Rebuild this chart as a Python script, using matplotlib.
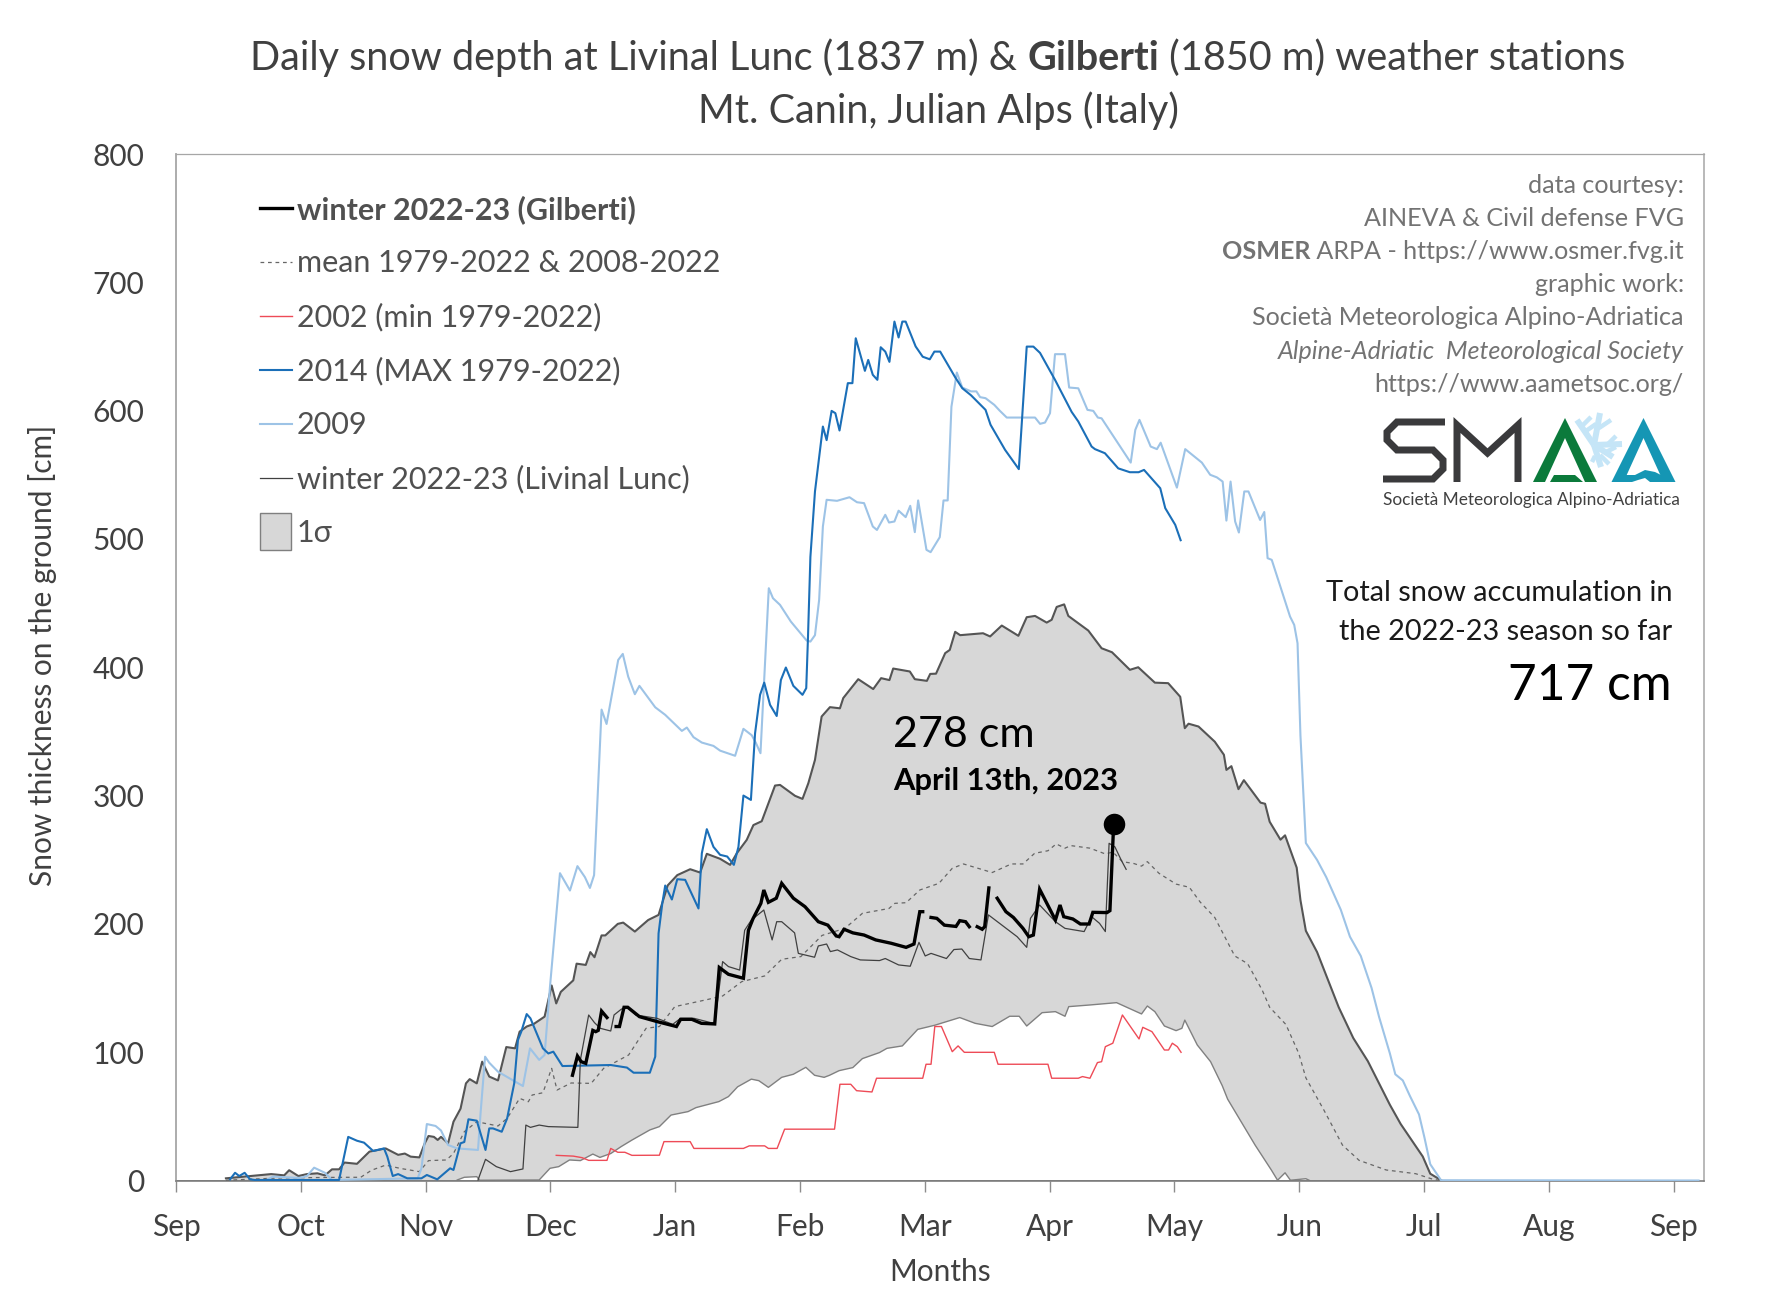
import numpy as np
import matplotlib
matplotlib.use("Agg")
import matplotlib.pyplot as plt
from matplotlib.lines import Line2D
from matplotlib.patches import Rectangle, Polygon
from matplotlib.legend_handler import HandlerPatch
from matplotlib.transforms import Affine2D

plt.rcParams['font.family'] = ['Lato', 'DejaVu Sans']
W, H = 1772, 1313

month_labels = ['Sep','Oct','Nov','Dec','Jan','Feb','Mar','Apr','May','Jun','Jul','Aug','Sep']
y_ticks = [0,100,200,300,400,500,600,700,800]

upper_d = [12,22.9,26,27.2,29.4,31.5,34,35.8,37.5,39.2,40.5,43.5,46.5,50.4,53.4,55,56.4,58.5,59.8,60.7,62,62.9,63.7,65.4,66.7,68.4,69.7,70.6,72.3,73.6,75.3,77.4,79.4,81.5,82.6,84.3,86,88.6,90.3,91.4,92.5,95.5,96.3,98.5,99.6,100.6,102.3,103.2,106.2,107.5,110.3,113.5,116,118.2,120.5,123.6,126,127.6,130.8,133.2,134.8,137.2,138.8,140.8,144,145.2,148.8,150.6,152,153.6,155.2,157.2,159.6,160.4,164,167.6,169.5,171.5,172.4,176.4,177.6,180.5,181.3,182.7,184.9,186,187.3,188.5,194,195.7,198.5,202.5,204.5,206.5,209.3,210.5,211.7,213.5,214.5,219.3,222.5,225,229.3,231.3,235.3,238.5,241.4,242.5,243.4,245.8,249.7,251.9,252.5,253.7,255.4,256.7,260.7,261.8,262.9,265.5,266.6,269.4,270.3,271.6,274.3,279.5,283,286.5,291.8,294.4,299.7,301.5,304.1]
upper_v = [1.7,5,4,8,3.5,5,5.6,4,8.7,8.7,14,13,22.5,25,20,21,18.6,18,29,34.7,34,31.6,34,29,45.8,56,75.7,79,75.7,92.6,81,78,104,103,116,120,122,127.7,152,138,147,156,169,168,178,174,191,191,200,201,194,203,207,230,238,242.6,240,254.6,250.7,246,255,265.5,277,280,307.8,308.3,299.8,297.4,309.6,327.8,361.6,368.9,368,376,390.7,383,391.5,390,399,396.7,390.7,389.4,394.8,395,411,413.5,427.6,425,426.5,424,432.5,424.5,439,440,434.8,437,447,449,440,428.6,414.8,411.7,398,400,388,387.6,377,352.5,356,353.8,342,331.8,320,322.9,305,312,294.5,293.6,279.6,265.6,269,243.8,218.5,194.6,178,135,111,93,59,44,18.7,5.3,0.2]

lower_d = [67.6,69.3,72.3,73,87.3,89.9,92,94.6,97.2,100.2,101.9,104.5,107,109.6,113.9,116.2,119,123.1,125,130.5,132.8,135,138.3,140.1,142.4,145.6,148.4,151.4,153.5,155.8,157.1,159.4,162.7,165,169.1,170.9,174.6,178.3,182.4,185.2,188.4,192.1,196.2,200.4,202.7,204.5,208.2,211.4,213.7,214.6,219.7,226.1,232.1,233.5,235.3,237.6,240.4,241.8,242.5,245.5,248.7,251.5,252.8,259.4,263.3,264.8,266.6,267.9,271.6,272.5]
lower_v = [0.4,2.5,3,0.2,0.4,9.5,10.8,16,15.5,20.6,18,21,26.4,31.5,39.4,42,51,53.7,56.8,61.5,65.4,73,79,77.8,72.6,80.4,82.8,88.2,82,80.4,82,85.6,88,95,99.7,103,104.9,117.8,121,123.8,127,122.5,120,128,128,120.4,130.8,131.6,128,135.5,136.8,138.6,129.8,136,131.6,120.4,116.8,118.6,125,105.6,92.6,73.9,63.4,27.6,8.2,0.2,6,0.2,1.4,0]

mean_d = [12,25,40,44.4,47,50.4,53.8,58.5,60.7,65,66.7,69.3,72.3,77.4,79.6,82.6,84.7,85.6,88.2,90.3,91.6,95,99.8,102.8,108.8,113,116.2,119.9,127.7,131.4,136,141.5,145.6,150.2,155.3,160.8,165,171.4,172.8,175.5,178.8,183.4,186.6,189.3,196.2,200.8,203.6,206.4,209.6,211.6,213.7,215.1,219.7,223.4,225.2,227.5,230.3,232.1,233.5,236.3,240.4,243.6,246.2,249.7,254.5,257.6,261.1,262.9,266.8,269.9,271.6,276,280.4,284.4,290.9,298,302.3,304]
mean_v = [0.2,2,2.5,2.5,8,12,9.5,6.9,15.5,16,21,38,45.8,42.5,48.4,64,61.4,66.6,68.4,87.4,70.5,76,75.7,87.4,97.8,118.6,120,135.5,141,143.8,155,159.4,172.4,174.5,191,196.5,208.2,212,216,216.5,226.4,231.6,243.3,246.7,240,246.7,246.7,255,257,262.3,259,261,259,254.5,256,248.5,247,245,248.5,239.4,231,228.5,217,205,175,169,148.4,135,121.6,99,80,54.5,27.6,15.7,8.2,5.3,0.8,0]

y2009_d = [21.7,23.3,29.8,31.5,33.2,35.8,37.5,58.1,59,60.3,62.4,63.7,65.4,67.6,72.6,73.2,74.3,75.3,77.4,83.4,85.1,87.3,88.6,89.9,92.3,94.7,96.5,98.3,99.5,100.5,102.3,103.5,106.3,107.4,108.7,110.3,111.4,115.2,117.6,121.6,122.8,124.4,126.4,129.2,130.8,134.4,136.4,138.4,139.4,140.5,142.5,143.5,145.2,147.8,151.6,152.5,153.6,154.6,155.5,156.4,158.9,161.9,163.7,165.4,167.5,168.5,170.5,171.4,172.7,173.7,175.4,176.5,177.6,178.4,180.4,181.4,183.6,184.5,185.5,186.4,187.7,189,191.1,192.4,193.3,194.6,196.7,198,199.7,206.5,207.7,208.9,210.1,211.3,213.7,214.7,216.9,219.1,220.5,221.6,222.5,229.5,230.6,231.6,234.3,235.8,236.7,240.6,242.6,246.6,248.6,250.2,251.6,252.5,253.5,254.6,255.5,256.8,257.8,260.6,261.6,262.4,263.4,267.8,268.8,269.6,270.3,271.6,274.3,276.5,280,282.2,284.8,287.4,289.2,291.8,293.1,294.9,296.6,298.8,300.1,301.5,304.1,366]
y2009_v = [0.4,3,2,3.5,10,6,0.4,1.7,9.5,44,42.5,39,27.7,25,23.8,52,96.5,91.8,84.8,73.6,103,94,97.8,151,239.5,226,245,236.4,228,238,367,355.8,405.7,410.4,392.7,379,385.5,368.8,362.9,350.4,353,345.5,341.3,338.7,335,331,352,347,341,333,461.6,453.8,448.6,435.6,420.8,420,425,452.5,509.7,530.5,529.7,532.5,528.6,527.9,509.7,507,518.8,512.8,513.6,522,517,525.8,505.3,530,491.5,489.7,501.4,530,530,603,629.7,618,615,615,610.5,609.7,604.5,600,594.6,594.6,589.7,590.7,598,644,644,618,617.4,600.6,599.8,594.6,594,559.5,585,592.8,572,570,575,540,570,559.5,550,548,544.7,514.3,544.7,513.6,505,537,537,514.8,521,485,483.7,439.5,433,418.7,346.7,263,249.8,236.4,211,190,175,150,127.5,99,82.8,78,66,51.5,33.6,12.7,0.2,0]

y2014_d = [13,14.2,15.2,16.5,17.8,19,39.2,41.4,43.5,45.2,47.4,50,50.8,52.1,53.4,55.6,59,60.3,62.8,65.9,66.7,68.4,69.3,70.3,72.3,74.4,75.3,76.2,78.3,79.6,81.3,82.2,83,84.3,85.2,88.2,89.5,90.7,92.9,104.5,108.4,110,113.9,115.2,116,116.9,117.6,119.2,120.5,122.4,125.6,126.4,127.6,129.2,130.8,132.5,134.1,135.2,136.4,138.2,139.2,140.4,141.4,142.8,144.4,145.4,146.6,148.4,150.6,151.5,151.9,152.5,153.6,155.5,156.4,157.6,158.5,159.5,161.5,162.6,163.4,165.6,166.4,167.5,168.6,169.4,170.5,171.5,172.7,173.7,174.6,175.4,177.8,179.5,181.2,182.3,183.7,187.3,189,191.1,194.6,195.8,199.3,202.6,204.5,206.1,207.7,211.3,215.3,216.9,220.1,220.9,223.3,226.5,229.3,231.4,232.7,236.6,237.8,240.2,241.5]
y2014_v = [0.9,6,3.5,6,0.9,0.4,0.4,34,31,29.5,23,25,18.6,3.5,5,1.7,1.7,4.3,0.9,9.5,8.2,29,30,47.7,46.6,23.8,40.6,40.6,38,48.4,75.7,109.5,116,129.7,126.4,103,99,100.4,89.2,90,88,84,84,96.5,192.6,216,229.9,219,234.8,234.3,212,255,273.8,260,253.8,252.5,246,260,300,296.6,348.6,378.5,388,370.7,362,390,399.8,385.5,378.5,383.7,421.4,486,537,587.6,577,599.8,598,584.5,621.4,621.4,656.4,631,639.5,627.9,624,649.4,646,638,669.4,657,669.4,669.4,650,642,640,646,646,626,617.5,612,600.6,589,569.4,554.4,649.9,649.9,645,624,599,591.5,572,570,566.8,555,552,552,553.8,539.5,524,511,499]

y2002_d = [91.4,95.5,97.6,99.2,103.6,104.5,106.2,107.9,109.6,116.2,117.3,123.6,124.5,136.4,137.8,141.5,142.4,144.5,146.3,158.3,159.6,162.2,163.6,167.3,168.4,179.5,180.3,181.5,182.4,184,186.6,188,189.5,196.7,197.6,209.6,210.5,216.9,217.9,219.7,221.5,222.5,223.4,225.2,227.5,231.5,232.4,234.6,237.6,238.6,239.5,240.7,241.6]
y2002_v = [19.6,19,17.8,15.7,15.7,25,22,22,19.6,19.7,30.3,30.3,25,25,27,27,25,25,40,40,75,75,70,69,79.7,79.7,90.6,90.6,120,120,100.4,104.9,99.9,99.9,90.6,90.6,79.7,79.7,81,79.7,91.9,92.6,104.3,107,129,110.3,119.4,116,101.7,101.7,107,104.3,99.9]

gilberti_d = [95.3,96.5,97.4,98.5,100.2,100.9,101.5,102.3,103.6,104.5,105.8,106.6,107.7,108.6,111.4,115.7,120.3,121.3,124,126.3,129.5,130.6,132.8,136.4,137.6,138.7,140.6,141.3,142.4,144.3,145.6,148.4,151.2,154.4,156.7,158.7,159.4,160.6,162.7,165.4,168.2,171.9,175.5,177.4,178.8,179.5,180.5,181.5,182.9,184.7,187.5,188.4,189.8,190.7,191.6,192.6,193.8,194.4,195.4,196.4,197.4,199.5,201.3,203.6,205,206.1,207.6,211.4,212.5,213.4,215.6,217.4,219.5,220.4,223.8,224.5,225.4]
gilberti_v = [82,97,92.6,91.3,117,116,117,132,127,np.nan,120,120,135,135,127.7,123.8,120,125.6,125.6,122.5,122,166,160.7,157.6,195,204,216,226.4,216.8,220,231.6,220,213.4,201.7,199,190.6,190,195.8,193,191.3,187.5,184.9,181.7,184.3,209.5,209.5,np.nan,205,204.3,199,198,202.5,201.7,197.8,np.nan,197.8,195.8,197.8,228,np.nan,220,209.5,205,196.5,190,191.3,227,203,214.7,205.6,203.8,199.9,199.9,209,208.8,210.3,278]

livinal_d = [72.6,74.4,77,80.4,83.4,84.1,85.2,87.3,89.5,96.6,97.2,99.2,100.6,102,104.5,105.3,107,108.3,110.5,115.6,119.4,121.3,124.5,128.6,129.5,131.4,132.8,135.5,136.7,138.3,141.3,143.3,144.4,145.6,148.7,149.6,153.5,154.4,156.4,157.3,159,162.2,164.5,169.1,170.5,173.7,176.5,178.6,180.1,181.5,185.2,187,188.9,190.7,193.5,195.3,202.2,204.5,205.4,207.6,211.4,213.7,218.3,220.1,222,223.4,224.3,225.7,227.2,228.4]
livinal_v = [0.4,16.5,10.8,6.9,9,43.2,41.4,43.2,42,41.4,93.9,129,123,118.6,116.5,129,133.4,135.5,129,126.4,121.7,126.4,126.4,123,123,170.6,166.7,164,195,203,210.8,187.5,201.7,201.7,193,177,174,182.8,184.3,178.4,179.7,174.5,171.9,171.4,173,168,167,185.6,175,177,173,180,180.4,173,171.9,207,190,181.7,204.3,214.7,201.7,196.5,194,205.6,200.4,194,262.8,260,249.8,242.5]

peak_day, peak_value = [225.5], [278]

GREY = '#404040'
fig = plt.figure(figsize=(W/100, H/100), dpi=100, facecolor='white')
L, R, T, B = 176, 1704, 154, 1180.5
ax = fig.add_axes([L/W, 1-B/H, (R-L)/W, (B-T)/H])
ax.set_xlim(0, (R-L)/4.16)
ax.set_ylim(0, 800)

px = Affine2D().scale(1, -1).translate(0, H)

# band
band_x = np.concatenate([upper_d, [304.1], lower_d[::-1], [12]])
band_y = np.concatenate([upper_v, [0], lower_v[::-1], [0]])
ax.fill(band_x, band_y, color='#d7d7d7', lw=0, zorder=1)
ax.plot(upper_d, upper_v, color='#555555', lw=1.5, zorder=2)
ax.plot(lower_d, lower_v, color='#808080', lw=1.0, zorder=2)
ax.plot([0, 366], [0, 0], color='#595959', lw=1.2, zorder=2)

l_mean, = ax.plot(mean_d, mean_v, color='#666666', lw=0.9, ls=(0, (3, 3)), zorder=3, label='mean 1979-2022 & 2008-2022')
l_2009, = ax.plot(y2009_d, y2009_v, color='#9DC3E6', lw=1.5, zorder=4, label='2009')
l_2002, = ax.plot(y2002_d, y2002_v, color='#EE4B57', lw=1.0, zorder=4, label='2002 (min 1979-2022)')
l_2014, = ax.plot(y2014_d, y2014_v, color='#1B6FB8', lw=1.5, zorder=5, label='2014 (MAX 1979-2022)')
l_liv, = ax.plot(livinal_d, livinal_v, color='#404040', lw=0.9, zorder=6, label='winter 2022-23 (Livinal Lunc)')
l_gil, = ax.plot(gilberti_d, gilberti_v, color='black', lw=2.4, zorder=7, solid_joinstyle='miter', label='winter 2022-23 (Gilberti)')
ax.plot(peak_day, peak_value, 'o', color='black', ms=15.5, mew=0, zorder=8, clip_on=False)

# axes
for s in ('top', 'right', 'left'):
    ax.spines[s].set_color('#a6a6a6')
ax.spines['top'].set_linewidth(0.9)
ax.spines['right'].set_linewidth(1.1)
ax.spines['left'].set_linewidth(1.3)
ax.spines['bottom'].set_color('#7f7f7f')
ax.spines['bottom'].set_linewidth(1.2)
ax.set_xticks(np.arange(0, 361, 30))
ax.set_xticklabels(month_labels)
ax.set_yticks(y_ticks)
ax.tick_params(axis='x', length=8, width=1.0, color='#8c8c8c', labelsize=21.5, labelcolor=GREY, pad=15.5)
ax.tick_params(axis='y', length=0, labelsize=21.5, labelcolor=GREY, pad=23)
ax.set_xlabel('Months', fontsize=21.5, color=GREY, va='center', ha='center')
ax.set_ylabel('Snow thickness on the ground [cm]', fontsize=21.5, color=GREY, va='center', ha='center')
ax.xaxis.set_label_coords(940, 1272, transform=px)
ax.yaxis.set_label_coords(43, 655, transform=px)

# legend
class TallBox(HandlerPatch):
    def create_artists(self, legend, orig, xd, yd, w, h, fs, trans):
        r = Rectangle((0, h/2-13.3), 22.5, 26.6, facecolor='#d7d7d7', edgecolor='#7f7f7f', lw=1.0)
        r.set_transform(trans)
        return [r]
box = Rectangle((0, 0), 1, 1, label='1σ')
leg = ax.legend(handles=[l_gil, l_mean, l_2002, l_2014, l_2009, l_liv, box],
                handler_map={Rectangle: TallBox()},
                loc='upper left', bbox_to_anchor=(260/W, 1-195/H), bbox_transform=fig.transFigure,
                frameon=False, fontsize=22, labelspacing=0.835, handlelength=1.05, handletextpad=0.15,
                borderpad=0, borderaxespad=0, labelcolor='#505050')
leg.get_texts()[0].set_fontweight('bold')
leg.set_zorder(10)

# mixed text helper
renderer = fig.canvas.get_renderer()
def width(s, **kw):
    a = fig.text(0, 0, '|'+s+'|', **kw); b = fig.text(0, 0, '||', **kw)
    w = a.get_window_extent(renderer).width - b.get_window_extent(renderer).width
    a.remove(); b.remove()
    return w
def mixed(x, y, pieces, align='center', **kw):
    ws = [width(s, **{**kw, **st}) for s, st in pieces]
    total = sum(ws)
    x0 = x - total/2 if align == 'center' else x - total
    for (s, st), w in zip(pieces, ws):
        fig.text(x0, y, s, transform=px, va='baseline', ha='left', **{**kw, **st})
        x0 += w

title_kw = dict(fontsize=28.5, color='#404040')
mixed(938, 70, [('Daily snow depth at Livinal Lunc (1837 m) & ', {}), ('Gilberti', {'fontweight': 'bold'}),
                  (' (1850 m) weather stations', {})], **title_kw)
fig.text(938, 122.5, 'Mt. Canin, Julian Alps (Italy)', transform=px, ha='center', va='baseline', **title_kw)

credit_kw = dict(fontsize=18.1, color='#737373')
xr = 1684
fig.text(xr, 193, 'data courtesy:', transform=px, ha='right', va='baseline', **credit_kw)
fig.text(xr, 226, 'AINEVA & Civil defense FVG', transform=px, ha='right', va='baseline', **credit_kw)
mixed(xr, 259, [('OSMER', {'fontweight': 'bold'}), (' ARPA - https://www.osmer.fvg.it', {})], align='right', **credit_kw)
fig.text(xr, 292, 'graphic work:', transform=px, ha='right', va='baseline', **credit_kw)
fig.text(xr, 325, 'Società Meteorologica Alpino-Adriatica', transform=px, ha='right', va='baseline', **credit_kw)
fig.text(xr, 359, 'Alpine-Adriatic  Meteorological Society', transform=px, ha='right', va='baseline', style='italic', **credit_kw)
fig.text(xr, 392, 'https://www.aametsoc.org/', transform=px, ha='right', va='baseline', **credit_kw)

fig.text(1672, 601, 'Total snow accumulation in', transform=px, ha='right', va='baseline', fontsize=20.8, color='#1a1a1a')
fig.text(1672, 640, 'the 2022-23 season so far', transform=px, ha='right', va='baseline', fontsize=20.8, color='#1a1a1a')
fig.text(1672, 700, '717 cm', transform=px, ha='right', va='baseline', fontsize=35.7, color='black')
fig.text(893, 747, '278 cm', transform=px, ha='left', va='baseline', fontsize=31, color='black')
fig.text(893, 790, 'April 13th, 2023', transform=px, ha='left', va='baseline', fontsize=22.2, fontweight='bold', color='black')

# logo, drawn in figure pixels
def stroke(xs, ys, color, lw, **k):
    fig.add_artist(Line2D(xs, ys, transform=px, color=color, lw=lw*0.72, solid_capstyle='butt', solid_joinstyle='miter', **k))
def poly(pts, color):
    fig.add_artist(Polygon(pts, closed=True, transform=px, facecolor=color, edgecolor='none'))
dk = '#3a3a3c'
stroke([1445, 1397, 1387, 1387, 1397, 1433, 1443, 1443, 1433, 1383], [422, 422, 432, 440, 450, 450, 460, 469, 479, 479], dk, 7)
stroke([1457, 1457, 1487.5, 1518, 1518], [482, 425, 453, 425, 482], dk, 7)
gr, te, fl = '#0B7A3B', '#1596B4', '#C5E5F7'
c = (1594, 445)
for tip in ((1577, 420), (1600, 413), (1622, 444), (1613, 457), (1601, 467)):
    stroke([c[0], tip[0]], [c[1], tip[1]], fl, 6)
for seg in (((1586, 431), (1596, 424)), ((1583, 425), (1591, 417)), ((1599, 428), (1611, 420)), ((1608, 444), (1616, 436)),
            ((1606, 452), (1616, 447)), ((1600, 455), (1609, 464)), ((1595, 456), (1592, 462))):
    stroke([seg[0][0], seg[1][0]], [seg[0][1], seg[1][1]], fl, 4.5)
for a0, cl in ((1565, gr), (1643.5, te)):
    poly([(a0, 418), (a0+32, 482), (a0+20, 482), (a0, 438), (a0-20, 482), (a0-32, 482)], cl)
poly([(1550, 482), (1554, 475), (1575, 475), (1583, 482)], gr)
poly([(1612, 482), (1620, 475), (1635, 475), (1645, 470), (1655, 472), (1663, 476), (1668, 482), (1650, 482), (1645, 478), (1638, 480), (1632, 482)], te)
fig.text(1383, 505, 'Società Meteorologica Alpino-Adriatica', transform=px, ha='left', va='baseline', fontsize=12.4, color='#404040')

fig.savefig('out.png', dpi=100, facecolor='white')
